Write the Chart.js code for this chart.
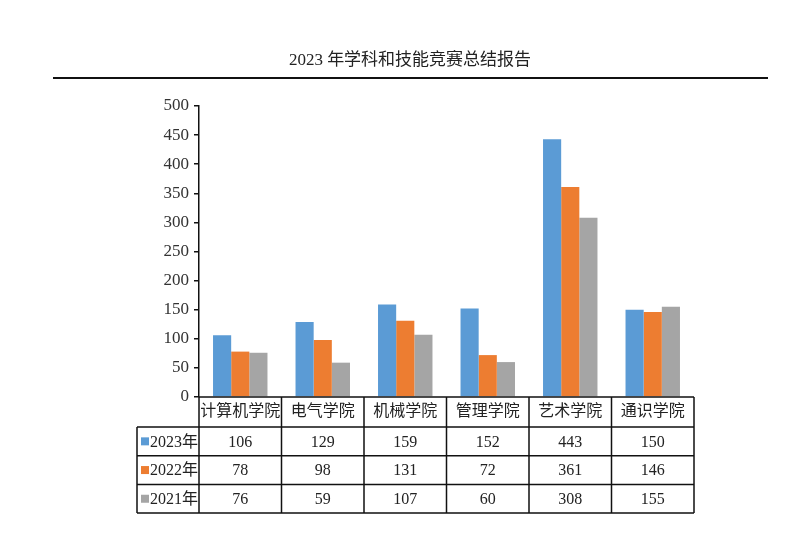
<!DOCTYPE html>
<html>
<head>
<meta charset="utf-8">
<script src="https://cdn.jsdelivr.net/npm/chart.js@4.4.0/dist/chart.umd.min.js"></script>
<style>
  body { margin: 0; background: #fff; }
  #wrap { position: relative; width: 800px; height: 533px; }
  #title { position: absolute; left: 0; width: 820px; top: 45px; text-align: center;
    font: 17px "Liberation Serif", "Noto Sans CJK SC", serif; color: #222; }
  #rule { position: absolute; left: 53px; width: 715px; top: 77px; height: 2px; background: #111; }
</style>
</head>
<body>
<div id="wrap">
  <div id="title">2023 年学科和技能竞赛总结报告</div>
  <div id="rule"></div>
  <canvas id="chart1" width="800" height="533"></canvas>
</div>
<script>
var colleges = ['计算机学院', '电气学院', '机械学院', '管理学院', '艺术学院', '通识学院'];
var seriesNames = ['2023年', '2022年', '2021年'];
var values2023 = [106, 129, 159, 152, 443, 150];
var values2022 = [78, 98, 131, 72, 361, 146];
var values2021 = [76, 59, 107, 60, 308, 155];
var yTicks = [0, 50, 100, 150, 200, 250, 300, 350, 400, 450, 500];
var colors = ['#5B9BD5', '#ED7D31', '#A5A5A5'];

var serif = '"Liberation Serif", "Noto Sans CJK SC", serif';

// data table under the plot, cells lined up with the x scale
var tablePlugin = {
    id: 'dataTable',
    afterDraw: function (chart) {
        var ctx = chart.ctx;
        var area = chart.chartArea;
        var x = chart.scales.x;
        var step = (area.right - area.left) / colleges.length;
        var rowH = 28.7;
        var headTop = area.bottom;
        var bodyTop = headTop + 30;
        var legendLeft = 137;
        var rows = [values2023, values2022, values2021];
        var bottom = bodyTop + rowH * rows.length;

        ctx.save();
        ctx.strokeStyle = '#111';
        ctx.lineWidth = 1.5;
        ctx.beginPath();
        // horizontal lines
        ctx.moveTo(area.left, headTop); ctx.lineTo(area.right, headTop);
        for (var r = 0; r <= rows.length; r++) {
            var yy = bodyTop + r * rowH;
            ctx.moveTo(legendLeft, yy); ctx.lineTo(area.right, yy);
        }
        // vertical lines
        ctx.moveTo(legendLeft, bodyTop); ctx.lineTo(legendLeft, bottom);
        for (var c = 0; c <= colleges.length; c++) {
            var xx = area.left + c * step;
            ctx.moveTo(xx, headTop); ctx.lineTo(xx, bottom);
        }
        ctx.stroke();

        ctx.fillStyle = '#222';
        ctx.textAlign = 'center';
        ctx.textBaseline = 'middle';
        ctx.font = '16px ' + serif;
        colleges.forEach(function (name, i) {
            ctx.fillText(name, x.getPixelForValue(i), headTop + 15);
        });
        rows.forEach(function (vals, r) {
            var cy = bodyTop + r * rowH + rowH / 2 + 1;
            vals.forEach(function (v, i) {
                ctx.fillText(String(v), x.getPixelForValue(i), cy);
            });
        });
        ctx.textAlign = 'left';
        seriesNames.forEach(function (name, r) {
            var cy = bodyTop + r * rowH + rowH / 2;
            ctx.fillStyle = colors[r];
            ctx.fillRect(legendLeft + 4, cy - 4, 8, 8);
            ctx.fillStyle = '#222';
            ctx.fillText(name, legendLeft + 13, cy + 1);
        });
        ctx.restore();
    }
};

var ctx = document.getElementById('chart1').getContext('2d');
new Chart(ctx, {
    type: 'bar',
    data: {
        labels: colleges,
        datasets: [
            { label: seriesNames[0], data: values2023, backgroundColor: colors[0] },
            { label: seriesNames[1], data: values2022, backgroundColor: colors[1] },
            { label: seriesNames[2], data: values2021, backgroundColor: colors[2] }
        ]
    },
    options: {
        responsive: false,
        animation: false,
        layout: { padding: { left: 140, right: 106, top: 106, bottom: 136 } },
        datasets: { bar: { categoryPercentage: 0.66, barPercentage: 1 } },
        plugins: { legend: { display: false }, tooltip: { enabled: false } },
        scales: {
            x: { display: false },
            y: {
                min: 0,
                max: 500,
                afterFit: function (s) { s.width = 59; },
                afterBuildTicks: function (s) { s.ticks = yTicks.map(function (v) { return { value: v }; }); },
                border: { display: true, color: '#111', width: 1.5 },
                grid: { drawOnChartArea: false, drawTicks: true, tickLength: 5, color: '#111', lineWidth: 1.5 },
                ticks: { color: '#333', padding: 5, font: { family: serif, size: 17 } }
            }
        }
    },
    plugins: [tablePlugin]
});
</script>
</body>
</html>
